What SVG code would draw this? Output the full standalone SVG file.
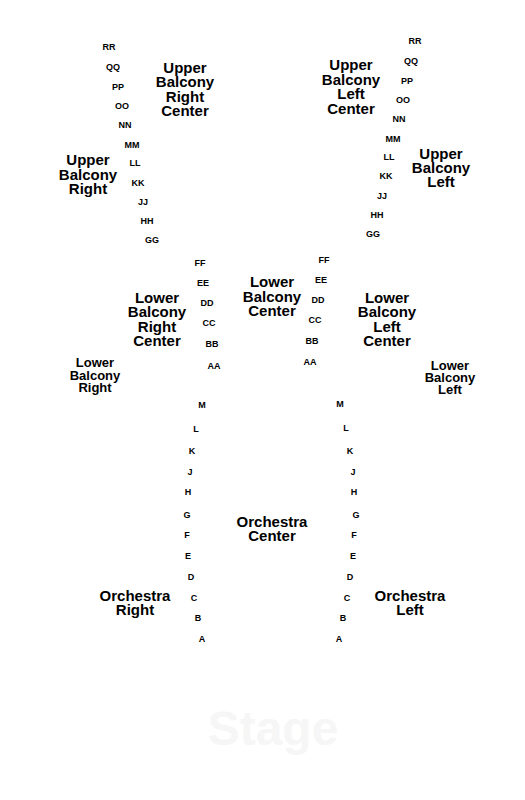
<svg xmlns="http://www.w3.org/2000/svg" width="525" height="800" viewBox="0 0 525 800">
<style>
text{font-family:"Liberation Sans",Arial,sans-serif;font-weight:bold;fill:#000;text-anchor:middle}
.r{font-size:9px}
.s{font-size:15px}
.m{font-size:13px}
.stage{font-size:48px;fill:#f6f6f6}
</style>
<rect width="525" height="800" fill="#fff"/>
<g id="upper-balcony-right">
<text class="s" x="88" y="165">Upper</text>
<text class="s" x="88" y="179.5">Balcony</text>
<text class="s" x="88" y="194">Right</text>
</g>
<g id="upper-balcony-right-rows">
<text class="r" x="109" y="50">RR</text>
<text class="r" x="113" y="70">QQ</text>
<text class="r" x="118" y="90">PP</text>
<text class="r" x="122" y="109">OO</text>
<text class="r" x="125" y="128">NN</text>
<text class="r" x="132" y="147.5">MM</text>
<text class="r" x="135" y="166">LL</text>
<text class="r" x="138" y="185.5">KK</text>
<text class="r" x="143" y="205">JJ</text>
<text class="r" x="147" y="224">HH</text>
<text class="r" x="152" y="243">GG</text>
</g>
<g id="upper-balcony-right-center">
<text class="s" x="185" y="72.5">Upper</text>
<text class="s" x="185" y="87">Balcony</text>
<text class="s" x="185" y="101.5">Right</text>
<text class="s" x="185" y="116">Center</text>
</g>
<g id="upper-balcony-left-center">
<text class="s" x="351" y="70">Upper</text>
<text class="s" x="351" y="84.5">Balcony</text>
<text class="s" x="351" y="99">Left</text>
<text class="s" x="351" y="113.5">Center</text>
</g>
<g id="upper-balcony-left-rows">
<text class="r" x="415" y="44">RR</text>
<text class="r" x="411" y="64">QQ</text>
<text class="r" x="407" y="84">PP</text>
<text class="r" x="403" y="103">OO</text>
<text class="r" x="399" y="122">NN</text>
<text class="r" x="393" y="141.5">MM</text>
<text class="r" x="389" y="160">LL</text>
<text class="r" x="386" y="179">KK</text>
<text class="r" x="382" y="199">JJ</text>
<text class="r" x="377" y="218">HH</text>
<text class="r" x="373" y="237">GG</text>
</g>
<g id="upper-balcony-left">
<text class="s" x="441" y="158.5">Upper</text>
<text class="s" x="441" y="173">Balcony</text>
<text class="s" x="441" y="187">Left</text>
</g>
<g id="lower-balcony-right">
<text class="m" x="95" y="367">Lower</text>
<text class="m" x="95" y="379.5">Balcony</text>
<text class="m" x="95" y="392">Right</text>
</g>
<g id="lower-balcony-right-center">
<text class="s" x="157" y="302.5">Lower</text>
<text class="s" x="157" y="317">Balcony</text>
<text class="s" x="157" y="331.5">Right</text>
<text class="s" x="157" y="346">Center</text>
</g>
<g id="lower-balcony-right-rows">
<text class="r" x="200" y="266">FF</text>
<text class="r" x="203" y="286">EE</text>
<text class="r" x="207" y="306">DD</text>
<text class="r" x="209" y="326">CC</text>
<text class="r" x="212" y="347">BB</text>
<text class="r" x="214" y="369">AA</text>
</g>
<g id="lower-balcony-center">
<text class="s" x="272" y="287">Lower</text>
<text class="s" x="272" y="301.5">Balcony</text>
<text class="s" x="272" y="316">Center</text>
</g>
<g id="lower-balcony-left-rows">
<text class="r" x="324" y="262.5">FF</text>
<text class="r" x="321" y="283">EE</text>
<text class="r" x="318" y="302.5">DD</text>
<text class="r" x="315" y="323">CC</text>
<text class="r" x="312" y="344">BB</text>
<text class="r" x="310" y="365">AA</text>
</g>
<g id="lower-balcony-left-center">
<text class="s" x="387" y="302.5">Lower</text>
<text class="s" x="387" y="317">Balcony</text>
<text class="s" x="387" y="331.5">Left</text>
<text class="s" x="387" y="346">Center</text>
</g>
<g id="lower-balcony-left">
<text class="m" x="450" y="369.5">Lower</text>
<text class="m" x="450" y="382">Balcony</text>
<text class="m" x="450" y="394">Left</text>
</g>
<g id="orchestra-right-rows">
<text class="r" x="202" y="407.5">M</text>
<text class="r" x="196" y="431.5">L</text>
<text class="r" x="192" y="454">K</text>
<text class="r" x="190" y="475">J</text>
<text class="r" x="188" y="495">H</text>
<text class="r" x="187" y="518">G</text>
<text class="r" x="187" y="538">F</text>
<text class="r" x="188" y="559">E</text>
<text class="r" x="191" y="580">D</text>
<text class="r" x="194" y="600.5">C</text>
<text class="r" x="198" y="620.5">B</text>
<text class="r" x="202" y="641.5">A</text>
</g>
<g id="orchestra-center">
<text class="s" x="272" y="527">Orchestra</text>
<text class="s" x="272" y="541">Center</text>
</g>
<g id="orchestra-left-rows">
<text class="r" x="340" y="407">M</text>
<text class="r" x="346" y="430.5">L</text>
<text class="r" x="350" y="454">K</text>
<text class="r" x="353" y="475">J</text>
<text class="r" x="354" y="495">H</text>
<text class="r" x="356" y="518">G</text>
<text class="r" x="354" y="538">F</text>
<text class="r" x="353" y="559">E</text>
<text class="r" x="350" y="580">D</text>
<text class="r" x="347" y="600.5">C</text>
<text class="r" x="343" y="620.5">B</text>
<text class="r" x="339" y="641.5">A</text>
</g>
<g id="orchestra-right">
<text class="s" x="135" y="601">Orchestra</text>
<text class="s" x="135" y="615">Right</text>
</g>
<g id="orchestra-left">
<text class="s" x="410" y="601">Orchestra</text>
<text class="s" x="410" y="615">Left</text>
</g>
<g id="stage">
<text class="stage" x="273" y="745">Stage</text>
</g>
<g id="connectors"/>
</svg>
